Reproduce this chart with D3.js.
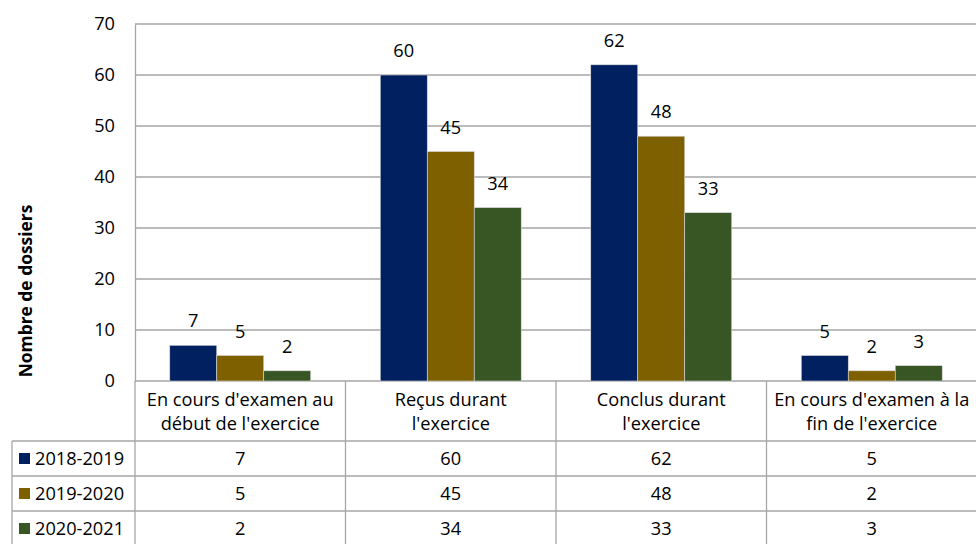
<!DOCTYPE html>
<html>
<head>
<meta charset="utf-8">
<script src="https://cdn.jsdelivr.net/npm/d3@7/dist/d3.min.js"></script>
<style>
  html, body { margin: 0; padding: 0; background: #fff; }
  svg { display: block; font-family: "Open Sans", Lato, sans-serif; }
</style>
</head>
<body>
<svg id="chart" width="976" height="544"></svg>
<script>
// Dossiers par catégorie et par exercice
const categories = [
  ["En cours d'examen au", "début de l'exercice"],
  ["Reçus durant", "l'exercice"],
  ["Conclus durant", "l'exercice"],
  ["En cours d'examen à la", "fin de l'exercice"]
];
const seriesNames = ["2018-2019", "2019-2020", "2020-2021"];
const values2018 = [7, 60, 62, 5];
const values2019 = [5, 45, 48, 2];
const values2020 = [2, 34, 33, 3];
const yTicks = [0, 10, 20, 30, 40, 50, 60, 70];
const colors = ["#002060", "#7f6000", "#375623"];

const seriesValues = [values2018, values2019, values2020];
const catKeys = categories.map((c, i) => i);

const svg = d3.select("#chart");
const plotLeft = 135, plotRight = 977, plotTop = 24, plotBottom = 381;
const gridColor = "#a6a6a6";
const fontSize = 18.2;
const fontFamily = "'Open Sans', Lato, sans-serif";

const x = d3.scaleBand().domain(catKeys).range([plotLeft, plotRight]).paddingInner(0).paddingOuter(0);
const xs = d3.scaleBand().domain(seriesNames).range([0, x.bandwidth()]).paddingInner(0).paddingOuter(0.74);
const y = d3.scaleLinear().domain([0, 70]).range([plotBottom, plotTop]);

// horizontal gridlines
svg.append("g")
  .selectAll("line")
  .data(yTicks)
  .join("line")
  .attr("x1", plotLeft).attr("x2", plotRight)
  .attr("y1", d => y(d)).attr("y2", d => y(d))
  .attr("stroke", gridColor).attr("stroke-width", 1.3);

// y axis
const yAxis = svg.append("g")
  .attr("transform", `translate(${plotLeft},0)`)
  .call(d3.axisLeft(y).tickValues(yTicks).tickSize(0).tickPadding(20));
yAxis.select(".domain").attr("stroke", gridColor).attr("stroke-width", 1.3);
yAxis.selectAll("text").attr("font-size", fontSize).attr("fill", "#000")
  .attr("font-family", fontFamily);

// axis title
svg.append("text")
  .attr("transform", "translate(25,291) rotate(-90)")
  .attr("text-anchor", "middle")
  .attr("dominant-baseline", "central")
  .attr("font-size", 17.4)
  .attr("font-weight", "bold")
  .text("Nombre de dossiers");

// bars
const groups = svg.append("g").selectAll("g")
  .data(seriesNames)
  .join("g")
  .attr("fill", (d, i) => colors[i]);

groups.selectAll("rect")
  .data((s, si) => seriesValues[si].map((v, ci) => ({ s, ci, v })))
  .join("rect")
  .attr("x", d => x(d.ci) + xs(d.s))
  .attr("width", xs.bandwidth())
  .attr("y", d => y(d.v))
  .attr("height", d => y(0) - y(d.v))
  .attr("stroke", "#d9d9d9")
  .attr("stroke-width", 0.6);

// value labels
groups.selectAll("text")
  .data((s, si) => seriesValues[si].map((v, ci) => ({ s, ci, v })))
  .join("text")
  .attr("x", d => x(d.ci) + xs(d.s) + xs.bandwidth() / 2)
  .attr("y", d => y(d.v) - 18)
  .attr("text-anchor", "middle")
  .attr("font-size", fontSize)
  .attr("fill", "#000")
  .text(d => d.v);

// data table
const rowTop = 441, rowH = 35, tableLeft = 12, tableBottom = 546;
const table = svg.append("g").attr("stroke", gridColor).attr("stroke-width", 1.3);
// vertical lines between categories
const vx = catKeys.map(k => x(k)).concat([plotRight]);
table.selectAll("line.v")
  .data(vx)
  .join("line")
  .attr("class", "v")
  .attr("x1", d => d).attr("x2", d => d)
  .attr("y1", plotBottom).attr("y2", tableBottom);
table.append("line")
  .attr("x1", tableLeft).attr("x2", tableLeft)
  .attr("y1", rowTop).attr("y2", tableBottom);
// row lines
table.selectAll("line.h")
  .data(seriesNames.map((s, i) => rowTop + i * rowH).concat([rowTop + 3 * rowH]))
  .join("line")
  .attr("class", "h")
  .attr("x1", tableLeft).attr("x2", plotRight)
  .attr("y1", d => d).attr("y2", d => d);

// category headers
const header = svg.append("g");
header.selectAll("text")
  .data(catKeys)
  .join("text")
  .attr("x", k => x(k) + x.bandwidth() / 2)
  .attr("y", 406)
  .attr("text-anchor", "middle")
  .attr("font-size", fontSize)
  .each(function (k) {
    const t = d3.select(this);
    categories[k].forEach((line, li) => {
      t.append("tspan")
        .attr("x", x(k) + x.bandwidth() / 2)
        .attr("dy", li === 0 ? 0 : 23.5)
        .text(line);
    });
  });

// series rows: legend key, name, values
seriesNames.forEach((s, si) => {
  const cy = rowTop + si * rowH + rowH / 2;
  const g = svg.append("g");
  g.append("rect")
    .attr("x", 19).attr("y", cy - 5.5)
    .attr("width", 11).attr("height", 11)
    .attr("fill", colors[si]);
  g.append("text")
    .attr("x", 35).attr("y", cy + 6)
    .attr("font-size", fontSize)
    .text(s);
  g.selectAll("text.val")
    .data(seriesValues[si])
    .join("text")
    .attr("class", "val")
    .attr("x", (v, ci) => x(ci) + x.bandwidth() / 2)
    .attr("y", cy + 6)
    .attr("text-anchor", "middle")
    .attr("font-size", fontSize)
    .text(v => v);
});
</script>
</body>
</html>
